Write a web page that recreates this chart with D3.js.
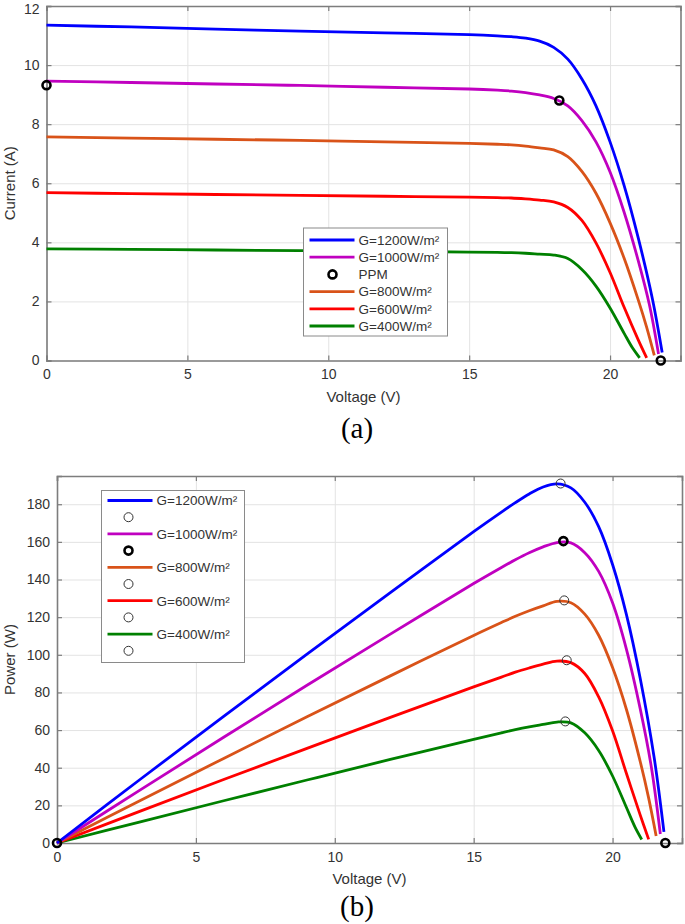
<!DOCTYPE html>
<html><head><meta charset="utf-8">
<script src="https://cdn.jsdelivr.net/npm/d3@7"></script>
<style>body{margin:0;background:#fff;} svg{display:block;font-family:"Liberation Sans",Arial,sans-serif;}</style>
</head><body>
<svg id="c" width="685" height="924"></svg>
<script>
// ---------- data ----------
const seriesNames = ["G=1200W/m²","G=1000W/m²","G=800W/m²","G=600W/m²","G=400W/m²"];
const seriesColors = ["#0000ff","#c000c0","#d95319","#ff0000","#008000"];
const xTicks = [0,5,10,15,20];
const iTicks = [0,2,4,6,8,10,12];
const pTicks = [0,20,40,60,80,100,120,140,160,180];

// I-V curves (voltage V, current A)
const v1200 = [0,3,6,9,12,15,16,16.5,17,17.5,18,18.5,19,19.5,20,20.5,21,21.5,21.85];
const i1200 = [11.35,11.29,11.22,11.15,11.09,11.03,10.99,10.96,10.91,10.81,10.60,10.20,9.53,8.62,7.40,5.92,4.15,2.10,0.27];
const v1000 = [0,3,6,9,12,15,16,16.5,17,17.5,18,18.5,19,19.5,20,20.5,21,21.4,21.72];
const i1000 = [9.46,9.41,9.36,9.31,9.25,9.19,9.15,9.12,9.07,8.99,8.87,8.62,8.12,7.40,6.38,5.02,3.38,1.87,0.22];
const v800 = [0,3,6,9,12,15,16,16.5,17,17.5,18,18.5,19,19.5,20,20.5,21,21.3,21.57];
const i800 = [7.57,7.53,7.49,7.45,7.40,7.35,7.32,7.30,7.26,7.20,7.13,6.90,6.40,5.66,4.66,3.46,2.05,1.12,0.17];
const v600 = [0,3,6,9,12,15,16,16.5,17,17.5,18,18.5,19,19.5,20,20.5,21,21.3];
const i600 = [5.68,5.65,5.62,5.59,5.56,5.53,5.51,5.50,5.47,5.43,5.37,5.18,4.74,3.98,2.98,1.80,0.70,0.09];
const v400 = [0,3,6,9,12,15,16,16.5,17,17.5,18,18.5,19,19.5,20,20.5,20.8,21.05];
const i400 = [3.78,3.76,3.74,3.72,3.70,3.67,3.66,3.65,3.63,3.60,3.57,3.45,3.08,2.52,1.78,0.92,0.42,0.09];

// P-V curves (power W, at the same voltage points)
const p1200 = [0,33.87,67.32,100.35,133.08,165.45,175.84,180.84,185.47,189.18,190.8,188.7,181.07,168.09,148.0,121.36,87.15,45.15,5.9];
const p1000 = [0,28.23,56.16,83.79,111.0,137.85,146.4,150.48,154.19,157.33,159.66,159.47,154.28,144.3,127.6,102.91,70.98,40.02,4.78];
const p800 = [0,22.59,44.94,67.05,88.8,110.25,117.12,120.45,123.42,126.0,128.34,127.65,121.6,110.37,93.2,70.93,43.05,23.86,3.67];
const p600 = [0,16.95,33.72,50.31,66.72,82.95,88.16,90.75,92.99,95.03,96.66,95.83,90.06,77.61,59.6,36.9,14.7,1.92];
const p400 = [0,11.28,22.44,33.48,44.4,55.05,58.56,60.23,61.71,63.0,64.26,63.83,58.52,49.14,35.6,18.86,8.74,1.89];

// markers
const ppmIV = [[0,9.32],[18.2,8.8],[21.8,0]];          // thick black circles (a)
const mppV = [18.13,18.23,18.26,18.35,18.3];           // thin circles (b)
const mppP = [191,160.4,128.9,97.1,64.6];
const ppmPV = [[0,0],[18.23,160.4],[21.9,0]];          // thick black circles (b)

const ivV = [v1200,v1000,v800,v600,v400];
const ivI = [i1200,i1000,i800,i600,i400];
const pvP = [p1200,p1000,p800,p600,p400];

// ---------- drawing ----------
const svg = d3.select("#c");
const TXT = "#333";
const AX = "#7d7d7d";
const CURVE = d3.curveCatmullRom.alpha(0.5);

function panel(cfg){
  const g = svg.append("g");
  const x = d3.scaleLinear().domain([0,22.5]).range([cfg.l,cfg.r]);
  const y = d3.scaleLinear().domain(cfg.yDom).range([cfg.b,cfg.t]);
  const W = cfg.r-cfg.l, H = cfg.b-cfg.t;
  // grid
  g.append("g").attr("transform",`translate(0,${cfg.b})`)
    .call(d3.axisBottom(x).tickValues(xTicks).tickSize(-H).tickFormat(""))
    .call(s=>{s.select(".domain").remove(); s.selectAll("line").attr("stroke","#e3e3e3").attr("stroke-width",1);});
  g.append("g").attr("transform",`translate(${cfg.l},0)`)
    .call(d3.axisLeft(y).tickValues(cfg.yTicks).tickSize(-W).tickFormat(""))
    .call(s=>{s.select(".domain").remove(); s.selectAll("line").attr("stroke","#e3e3e3").attr("stroke-width",1);});
  // axes with inward ticks
  const fmt = d3.format("d");
  const ax = [
    [d3.axisBottom(x).tickValues(xTicks).tickSize(-5).tickPadding(9).tickFormat(fmt), `translate(0,${cfg.b})`],
    [d3.axisTop(x).tickValues(xTicks).tickSize(-5).tickFormat(""), `translate(0,${cfg.t})`],
    [d3.axisLeft(y).tickValues(cfg.yTicks).tickSize(-5).tickPadding(7).tickFormat(fmt), `translate(${cfg.l},0)`],
    [d3.axisRight(y).tickValues(cfg.yTicks).tickSize(-5).tickFormat(""), `translate(${cfg.r},0)`]
  ];
  ax.forEach(([a,tr],idx)=>{
    g.append("g").attr("transform",tr).call(a)
      .call(s=>{
        s.select(".domain").attr("stroke",AX).attr("stroke-width",1.6);
        s.selectAll(".tick line").attr("stroke",AX).attr("stroke-width",1.2);
        s.selectAll("text").attr("fill",TXT).style("font-size","14px").style("font-family","'Liberation Sans',Arial,sans-serif");
        if(idx===2 && cfg.topNudge){
          // keep the top tick label inside the picture
          s.selectAll(".tick text").filter(d=>d===cfg.yDom[1]).attr("dy","0.5em");
        }
      });
  });
  // labels
  g.append("text").attr("x",(cfg.l+cfg.r)/2).attr("y",cfg.b+41).attr("text-anchor","middle")
    .attr("fill",TXT).style("font-size","15px").text("Voltage (V)");
  g.append("text").attr("transform",`translate(15,${(cfg.t+cfg.b)/2}) rotate(-90)`).attr("text-anchor","middle")
    .attr("fill",TXT).style("font-size","15px").text(cfg.yLabel);
  g.append("text").attr("x",357).attr("y",cfg.capY).attr("text-anchor","middle")
    .style("font-family","'Liberation Serif','Times New Roman',serif").style("font-size","29px").attr("fill","#000").text(cfg.cap);
  return {g,x,y};
}

// ----- (a) I-V -----
const A = panel({l:46.5,r:680.5,t:6,b:360.5,yDom:[0,12],yTicks:iTicks,yLabel:"Current (A)",cap:"(a)",capY:438,topNudge:true});
const lineA = d3.line().x(d=>A.x(d[0])).y(d=>A.y(d[1])).curve(CURVE);
[4,3,2,1,0].forEach(k=>{
  const pts = ivV[k].map((v,j)=>[v,ivI[k][j]]);
  A.g.append("path").attr("d",lineA(pts)).attr("fill","none").attr("stroke",seriesColors[k]).attr("stroke-width",2.8);
});
A.g.selectAll("circle.ppm").data(ppmIV).join("circle").attr("cx",d=>A.x(d[0])).attr("cy",d=>A.y(d[1])).attr("r",4)
  .attr("fill","none").attr("stroke","#000").attr("stroke-width",2.6);

// legend (a)
(function(){
  const lx=303.5, ly=228, lw=144, lh=108, sp=17.2;
  const g = A.g.append("g");
  g.append("rect").attr("x",lx).attr("y",ly).attr("width",lw).attr("height",lh).attr("fill","#fff").attr("stroke","#8a8a8a").attr("stroke-width",1);
  const items = [
    {t:"line",c:0,label:seriesNames[0]},{t:"line",c:1,label:seriesNames[1]},{t:"ppm",label:"PPM"},
    {t:"line",c:2,label:seriesNames[2]},{t:"line",c:3,label:seriesNames[3]},{t:"line",c:4,label:seriesNames[4]}];
  items.forEach((it,i)=>{
    const yy = ly+12+i*sp;
    if(it.t==="line") g.append("line").attr("x1",lx+6).attr("x2",lx+51).attr("y1",yy).attr("y2",yy).attr("stroke",seriesColors[it.c]).attr("stroke-width",2.8);
    else g.append("circle").attr("cx",lx+29).attr("cy",yy).attr("r",4).attr("fill","none").attr("stroke","#000").attr("stroke-width",2.6);
    g.append("text").attr("x",lx+55).attr("y",yy+4.8).attr("fill",TXT).style("font-size","13.5px").text(it.label);
  });
})();

// ----- (b) P-V -----
const B = panel({l:57,r:682,t:476,b:843,yDom:[0,195],yTicks:pTicks,yLabel:"Power (W)",cap:"(b)",capY:916});
const lineB = d3.line().x(d=>B.x(d[0])).y(d=>B.y(d[1])).curve(CURVE);
[4,3,2,1,0].forEach(k=>{
  const pts = ivV[k].map((v,j)=>[v,pvP[k][j]]);
  B.g.append("path").attr("d",lineB(pts)).attr("fill","none").attr("stroke",seriesColors[k]).attr("stroke-width",2.8);
});
B.g.selectAll("circle.mpp").data(mppV.map((v,i)=>[v,mppP[i]])).join("circle").attr("cx",d=>B.x(d[0])).attr("cy",d=>B.y(d[1])).attr("r",4.5)
  .attr("fill","none").attr("stroke","#333").attr("stroke-width",1);
B.g.append("g").selectAll("circle").data(ppmPV).join("circle").attr("cx",d=>B.x(d[0])).attr("cy",d=>B.y(d[1])).attr("r",4)
  .attr("fill","none").attr("stroke","#000").attr("stroke-width",2.6);

// legend (b)
(function(){
  const lx=101.5, ly=490.5, lw=143, lh=172, sp=16.7;
  const g = B.g.append("g");
  g.append("rect").attr("x",lx).attr("y",ly).attr("width",lw).attr("height",lh).attr("fill","#fff").attr("stroke","#8a8a8a").attr("stroke-width",1);
  const items = [];
  seriesNames.forEach((n,k)=>{ items.push({t:"line",c:k,label:n}); items.push({t:k===1?"thick":"thin"}); });
  items.forEach((it,i)=>{
    const yy = ly+10+i*sp;
    if(it.t==="line"){
      g.append("line").attr("x1",lx+6).attr("x2",lx+51).attr("y1",yy).attr("y2",yy).attr("stroke",seriesColors[it.c]).attr("stroke-width",2.8);
      g.append("text").attr("x",lx+55).attr("y",yy+4.8).attr("fill",TXT).style("font-size","13.5px").text(it.label);
    } else if(it.t==="thick"){
      g.append("circle").attr("cx",lx+27).attr("cy",yy).attr("r",4).attr("fill","none").attr("stroke","#000").attr("stroke-width",2.6);
    } else {
      g.append("circle").attr("cx",lx+27).attr("cy",yy).attr("r",4.5).attr("fill","none").attr("stroke","#333").attr("stroke-width",1);
    }
  });
})();
</script>
</body></html>
